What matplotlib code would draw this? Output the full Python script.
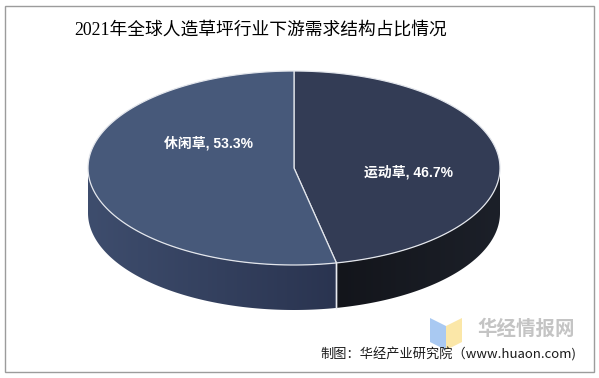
#!/usr/bin/env python3

"""
3D-style pie: 2021 global artificial turf downstream demand structure.
"""

import numpy as np
import matplotlib
matplotlib.use("Agg")
import matplotlib.pyplot as plt
from matplotlib.patches import Polygon, Rectangle


TITLE = "2021年全球人造草坪行业下游需求结构占比情况"
SOURCE = "制图：华经产业研究院（www.huaon.com)"
WATERMARK = "华经情报网"

CATEGORIES = ["运动草", "休闲草"]
SHARES = [46.7, 53.3]

TOP_COLORS = ["#333c55", "#47597a"]
SIDE_COLORS = [("#1c2029", "#13151b"), ("#2a3450", "#3e4d6d")]

FIGSIZE = (5.99, 3.78)
DPI = 100

# pie geometry, in pixel units of the figure
CX, CY = 294, 168
RX, RY = 206, 97
DEPTH = 45

CJK = ["Noto Sans CJK SC", "DejaVu Sans"]
LABEL_FONT = ["Liberation Sans", "Noto Sans CJK SC"]
TITLE_FONT = ["Liberation Serif", "Noto Sans CJK SC"]


def pt(theta, dy=0.0):
    """Point on the rim, theta in degrees clockwise from the top."""
    t = np.radians(theta)
    return CX + RX * np.sin(t), CY - RY * np.cos(t) + dy


def arc(a, b, dy=0.0, n=120):
    th = np.linspace(a, b, n)
    x, y = pt(th, dy)
    return np.column_stack([x, y])


def side_wall(ax, a, b, colors):
    top = arc(a, b)
    bottom = arc(a, b, DEPTH)[::-1]
    poly = Polygon(np.vstack([top, bottom]), closed=True,
                   facecolor="none", edgecolor="none")
    ax.add_patch(poly)
    x0, x1 = top[:, 0].min(), top[:, 0].max()
    y0, y1 = top[:, 1].min(), bottom[:, 1].max()
    c0 = np.array(matplotlib.colors.to_rgb(colors[0]))
    c1 = np.array(matplotlib.colors.to_rgb(colors[1]))
    # gradient runs from the start angle side to the end angle side
    s = np.linspace(0, 1, 256)
    if pt(a)[0] > pt(b)[0]:
        s = s[::-1]
    grad = c0[None, :] * (1 - s[:, None]) + c1[None, :] * s[:, None]
    img = ax.imshow(grad[None, :, :], extent=(x0, x1, y1, y0),
                    aspect="auto", zorder=1, interpolation="bilinear")
    img.set_clip_path(poly)


def main():
    fig = plt.figure(figsize=FIGSIZE, dpi=DPI)
    ax = fig.add_axes([0, 0, 1, 1])
    ax.set_xlim(0, 599)
    ax.set_ylim(378, 0)
    ax.axis("off")

    total = float(sum(SHARES))
    start = 0.0
    bounds = []
    for share in SHARES:
        end = start + share / total * 360.0
        bounds.append((start, end))
        start = end

    # side walls (only the front half of the rim is visible)
    for (a, b), colors in zip(bounds, SIDE_COLORS):
        lo, hi = max(a, 90.0), min(b, 270.0)
        if lo < hi:
            side_wall(ax, lo, hi, colors)
    for a, b in bounds:
        for t in (a, b):
            if 90.0 < t < 270.0:
                x, y = pt(t)
                ax.plot([x, x], [y, y + DEPTH], color="#e8eaef",
                        lw=1.0, zorder=3)

    # top faces
    for (a, b), color in zip(bounds, TOP_COLORS):
        verts = np.vstack([[CX, CY], arc(a, b)])
        ax.add_patch(Polygon(verts, closed=True, facecolor=color,
                             edgecolor="#e3e6ec", lw=0.9, zorder=2))

    # data labels
    label_pos = [(409, 172), (209, 143)]
    for cat, share, (x, y) in zip(CATEGORIES, SHARES, label_pos):
        ax.text(x, y, f"{cat}, {share:.1f}%", color="white",
                fontsize=10, fontweight="bold", family=LABEL_FONT,
                ha="center", va="center", zorder=4)

    ax.text(261, 30, TITLE, family=TITLE_FONT, fontsize=12.8,
            color="#000000", ha="center", va="center")

    # watermark
    ax.add_patch(Polygon([(430, 318), (446, 326), (446, 350), (430, 342)],
                         closed=True, facecolor="#a9c9f2", edgecolor="none"))
    ax.add_patch(Polygon([(446, 326), (462, 318), (462, 342), (446, 350)],
                         closed=True, facecolor="#fbe7a8", edgecolor="none"))
    ax.text(526, 329, WATERMARK, family=CJK, fontsize=14, fontweight="bold",
            color="#c4c4c4", ha="center", va="center")

    ax.text(576, 354, SOURCE, family=CJK, fontsize=9.5, color="#1a1a1a",
            ha="right", va="center")

    ax.add_patch(Rectangle((4.5, 5.5), 589, 366, fill=False,
                           edgecolor="#9c9c9c", lw=1.0))

    fig.savefig("out.png", dpi=DPI)


if __name__ == "__main__":
    main()
